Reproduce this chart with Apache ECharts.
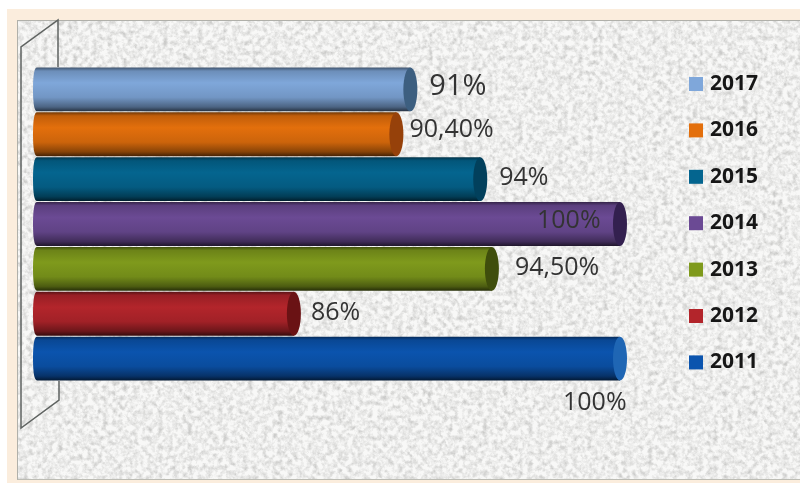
<!DOCTYPE html>
<html>
<head>
<meta charset="utf-8">
<style>
html,body{margin:0;padding:0;background:#fff;width:800px;height:483px;overflow:hidden}
#frame{position:absolute;left:7px;top:9px;width:793px;height:474px;background:#fbeddd}
#panel{position:absolute;left:17px;top:20px;width:783px;height:460px;background-color:#eeeeec;border-top:1px solid #b0b0aa;border-left:1px solid #b0b0aa;border-bottom:1px solid #bcbcb4;box-sizing:border-box;
background-image:url("data:image/svg+xml;utf8,<svg xmlns='http://www.w3.org/2000/svg' width='783' height='460'><filter id='n' x='0' y='0' width='100%' height='100%'><feTurbulence type='fractalNoise' baseFrequency='0.2' numOctaves='4' seed='7'/><feColorMatrix values='0 0 0 0 0.6 0 0 0 0 0.6 0 0 0 0 0.59 1.5 1.5 0 0 -1.25'/></filter><rect width='783' height='460' fill='%23f8f8f7'/><rect width='783' height='460' filter='url(%23n)'/></svg>");}
#main{position:absolute;left:0;top:0;width:800px;height:483px}
</style>
<script src="https://cdn.jsdelivr.net/npm/echarts@6/dist/echarts.min.js"></script>
</head>
<body>
<div id="frame"></div>
<div id="panel"></div>
<div id="main"></div>
<script>
const years = ['2017','2016','2015','2014','2013','2012','2011'];
const values = [91, 90.4, 94, 100, 94.5, 86, 100];
const labels = ['91%','90,40%','94%','100%','94,50%','86%','100%'];
const colors = ['#7fa7da','#e36f0c','#04658f','#6b4a94','#7f9a1c','#b3252b','#0b54ae'];
const shades = ['#3d5f80','#96410a','#02405c','#33204f','#3f4e0c','#6a1214','#1f66b4'];
const labelDx = [12, 6, 12, -90, 16, 10, -64];
const labelDy = [-3, -4, -1, -3, -1, -1, 44];
const labelSize = [29, 25, 25, 25, 25, 25, 25];

const chart = echarts.init(document.getElementById('main'), null, {renderer:'canvas'});

function darken(hex, k) {
  const n = parseInt(hex.slice(1), 16);
  const f = v => Math.round(v * k);
  return `rgb(${f(n >> 16)},${f((n >> 8) & 255)},${f(n & 255)})`;
}

function barItem(i) {
  return function (params, api) {
    const end = api.coord([api.value(0), api.value(1)]);
    const start = api.coord([74.5, api.value(1)]);
    const h = api.size([0, 1])[1];
    const x0 = start[0], x1 = end[0], cy = end[1];
    const top = cy - h / 2 + 0.5, hh = h - 1;
    const rxCap = 7, rxL = 4;
    const fill = new echarts.graphic.LinearGradient(0, 0, 0, 1, [
      {offset: 0, color: darken(colors[i], 0.5)},
      {offset: 0.08, color: darken(colors[i], 0.85)},
      {offset: 0.35, color: colors[i]},
      {offset: 0.68, color: darken(colors[i], 0.9)},
      {offset: 0.9, color: darken(colors[i], 0.6)},
      {offset: 1, color: darken(colors[i], 0.3)}
    ]);
    return {
      type: 'group',
      children: [
        {type:'path', shape:{
            pathData:`M${x0+rxL} ${top} L${x1-rxCap} ${top} L${x1-rxCap} ${top+hh} L${x0+rxL} ${top+hh} Q${x0} ${top+hh} ${x0} ${cy} Q${x0} ${top} ${x0+rxL} ${top} Z`,
            layout:'center', x:x0, y:top, width:x1-rxCap-x0, height:hh},
          style:{fill}},
        {type:'ellipse', shape:{cx:x1-rxCap, cy, rx:rxCap, ry:hh/2}, style:{fill:shades[i]}},
        {type:'text', z2:10, style:{
          x: x1 + labelDx[i], y: cy + labelDy[i], text: labels[i],
          textAlign:'left', textVerticalAlign:'middle',
          font: labelSize[i] + 'px "Open Sans"', fill:'#333333'}}
      ]
    };
  };
}

const series = years.map((y, i) => ({
  name: y,
  type: 'custom',
  coordinateSystem: 'cartesian2d',
  renderItem: barItem(i),
  itemStyle: {color: colors[i]},
  encode: {x: 0, y: 1},
  data: [[values[i], y]],
  z: 2 + i,
  clip: false
}));

chart.setOption({
  animation: false,
  backgroundColor: 'transparent',
  grid: {left: 33, top: 67, width: 594, height: 314},
  xAxis: {type: 'value', min: 74.5, max: 100, show: false},
  yAxis: {type: 'category', data: years, inverse: true, show: false},
  legend: {
    orient: 'vertical', left: 689, top: 73, padding: 0,
    data: years, icon: 'rect', itemWidth: 14, itemHeight: 14, itemGap: 24.4,
    textStyle: {fontFamily: '"Open Sans"', fontWeight: 'bold', fontSize: 21, color: '#161616', padding: [0,0,0,2], lineHeight: 22}
  },
  graphic: [
    {type:'polyline', silent:true, z:1, shape:{points:[[58,67],[58,20],[21,47],[21,428],[59,400],[59,381]]},
     style:{fill:'none', stroke:'#5f6361', lineWidth:1.5}}
  ],
  series
});
</script>
</body>
</html>
